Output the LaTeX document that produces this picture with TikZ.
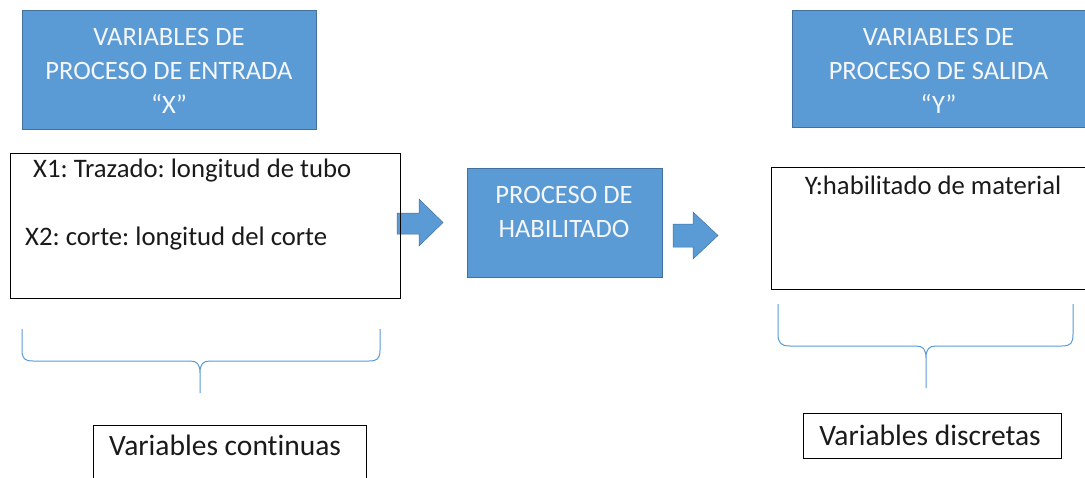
\documentclass[tikz,border=0pt]{standalone}
\usepackage{fontspec}
\setmainfont[Ligatures={NoCommon}]{Carlito}
\frenchspacing
\definecolor{boxblue}{HTML}{5B9BD5}
\definecolor{boxedge}{HTML}{41719C}
\definecolor{txt}{HTML}{1A1A1A}
\definecolor{bluetxt}{HTML}{F4F6FA}
\begin{document}
\begin{tikzpicture}[x=1pt,y=-1pt,
  bluebox/.style={draw=boxedge,line width=0.8pt,fill=boxblue,inner sep=0pt,anchor=north west},
  whitebox/.style={draw=black,line width=1.3pt,inner sep=0pt,anchor=north west},
  bluetext/.style={text=bluetxt,align=center,font=\fontsize{26.5}{34}\selectfont,inner sep=0pt},
  bodytext/.style={text=txt,font=\fontsize{26.7}{30}\selectfont,inner sep=0pt},
  bigtext/.style={text=txt,font=\fontsize{29.5}{32}\selectfont,inner sep=0pt},
  blockarrow/.style={fill=boxblue,draw=boxedge,line width=0.5pt},
  bracepath/.style={draw=boxblue,line width=1pt}]
\useasboundingbox (0,0) rectangle (1085,477);
\clip (0,0) rectangle (1085,477);
\fill[white] (0,0) rectangle (1085,477);

% top blue boxes
\node[bluebox,minimum width=294pt,minimum height=119pt] (inbox) at (22,10) {};
\node[bluetext] (intext) at (169,71) {VARIABLES DE\\PROCESO DE ENTRADA\\“X”};
\node[bluebox,minimum width=300pt,minimum height=117pt] (outbox) at (792,10) {};
\node[bluetext] (outtext) at (938.5,71) {VARIABLES DE\\PROCESO DE SALIDA\\“Y”};

% block arrows
\path[blockarrow] (397,213) -- (419,213) -- (419,199) -- (443,222.5) -- (419,246) -- (419,234) -- (397,234) -- cycle;
\path[blockarrow] (673,224) -- (693,224) -- (693,212) -- (718,235.5) -- (693,259) -- (693,247) -- (673,247) -- cycle;

% input variables box
\node[whitebox,minimum width=390pt,minimum height=145pt] (xbox) at (10,153) {};
\node[bodytext,anchor=west] (x1) at (33,171) {X1: Trazado: longitud de tubo};
\node[bodytext,anchor=west] (x2) at (25,239) {X2: corte: longitud del corte};

% process box
\node[bluebox,minimum width=195pt,minimum height=109pt] (proc) at (467,168) {};
\node[bluetext] (proctext) at (564,212) {PROCESO DE\\HABILITADO};

% output box
\node[whitebox,minimum width=320pt,minimum height=122pt] (ybox) at (771,167) {};
\node[bodytext] (y1) at (933,185) {Y:habilitado de material};

% braces
\path[bracepath] (22,329) -- (22,350) .. controls (22,359) and (25,361) .. (33,361) -- (190,361)
  .. controls (197,361) and (200,364) .. (200,373) -- (200,393)
  (200,373) .. controls (200,364) and (203,361) .. (210,361) -- (369,361)
  .. controls (377,361) and (380,359) .. (380,350) -- (380,329);
\path[bracepath] (778,304) -- (778,334) .. controls (778,343) and (781,346) .. (790,346) -- (916,346)
  .. controls (923,346) and (926,349) .. (926,358) -- (926,388)
  (926,358) .. controls (926,349) and (929,346) .. (936,346) -- (1062,346)
  .. controls (1071,346) and (1073,343) .. (1073,334) -- (1073,304);

% bottom boxes
\node[whitebox,minimum width=273pt,minimum height=70pt] (contbox) at (93,425) {};
\node[bigtext,anchor=west] (conttext) at (109,445) {Variables continuas};
\node[whitebox,minimum width=258pt,minimum height=45pt] (discbox) at (803,413) {};
\node[bigtext] (disctext) at (930,435) {Variables discretas};
\end{tikzpicture}
\end{document}
